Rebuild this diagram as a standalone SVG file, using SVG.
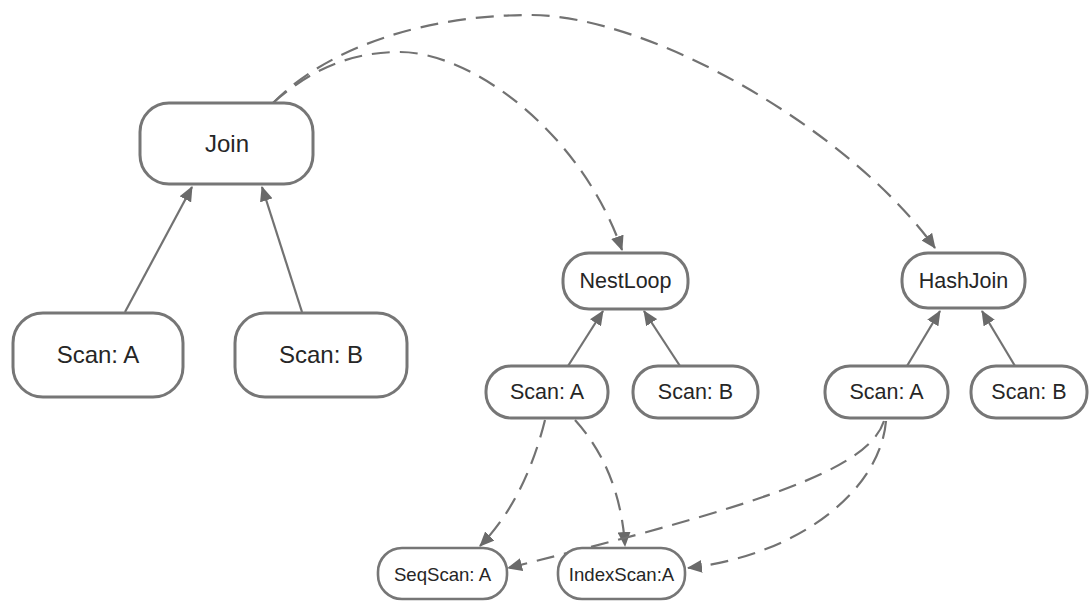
<svg xmlns="http://www.w3.org/2000/svg" width="1090" height="601" viewBox="0 0 1090 601">
  <style>
    .node rect { fill: #ffffff; stroke: #767676; stroke-width: 3; }
    .node text { font-family: "Liberation Sans", Arial, sans-serif; fill: #262626; text-anchor: middle; }
    .big text { font-size: 24px; }
    .mid text { font-size: 21.5px; }
    .small rect { stroke-width: 2.6; }
    .small text { font-size: 18.6px; }
    .edge { fill: none; stroke: #727272; stroke-width: 2.2; }
    .dash { stroke-dasharray: 18 10; }
  </style>
  <defs>
    <marker id="arrow" viewBox="0 0 15 13" refX="14" refY="6.5" markerWidth="15" markerHeight="13" markerUnits="userSpaceOnUse" orient="auto">
      <path d="M0,0 L15,6.5 L0,13 Z" fill="#6a6a6a"/>
    </marker>
  </defs>

  <!-- connectors -->
  <g id="connectors">
    <!-- solid child-to-parent edges -->
    <line class="edge" x1="125" y1="312" x2="192" y2="187" marker-end="url(#arrow)"/>
    <line class="edge" x1="302" y1="312" x2="262" y2="187" marker-end="url(#arrow)"/>
    <line class="edge" x1="568" y1="366" x2="603" y2="311" marker-end="url(#arrow)"/>
    <line class="edge" x1="680" y1="366" x2="644" y2="311" marker-end="url(#arrow)"/>
    <line class="edge" x1="907" y1="366" x2="940" y2="311" marker-end="url(#arrow)"/>
    <line class="edge" x1="1015" y1="366" x2="982" y2="311" marker-end="url(#arrow)"/>

    <!-- dashed alternatives from Join -->
    <path class="edge dash" d="M273,103 C310,70 350,52 400,52 C470,52 580,130 622,250" marker-end="url(#arrow)"/>
    <path class="edge dash" d="M273,103 C330,45 430,15 530,15 C650,15 850,130 935,248" marker-end="url(#arrow)"/>

    <!-- dashed alternatives from the NestLoop scan -->
    <path class="edge dash" d="M545,420 Q525,500 480,546" marker-end="url(#arrow)"/>
    <path class="edge dash" d="M575,420 Q620,470 625,546" marker-end="url(#arrow)"/>

    <!-- dashed alternatives from the HashJoin scan -->
    <path class="edge dash" d="M884,421 C868,470 760,505 508,568" marker-end="url(#arrow)"/>
    <path class="edge dash" d="M886,421 C880,490 800,555 688,568" marker-end="url(#arrow)"/>
  </g>

  <!-- nodes -->
  <g id="join" class="node big">
    <rect x="140" y="103" width="173" height="81" rx="29"/>
    <text x="227" y="152">Join</text>
  </g>
  <g id="scan-a-left" class="node big">
    <rect x="13" y="313" width="170" height="84" rx="30"/>
    <text x="98" y="363">Scan: A</text>
  </g>
  <g id="scan-b-left" class="node big">
    <rect x="235" y="313" width="172" height="84" rx="30"/>
    <text x="321" y="363">Scan: B</text>
  </g>

  <g id="nestloop" class="node mid">
    <rect x="563" y="253" width="125" height="56" rx="26"/>
    <text x="625.5" y="288">NestLoop</text>
  </g>
  <g id="scan-a-nest" class="node mid">
    <rect x="486" y="366" width="122" height="52" rx="25"/>
    <text x="547" y="399">Scan: A</text>
  </g>
  <g id="scan-b-nest" class="node mid">
    <rect x="633" y="366" width="125" height="52" rx="25"/>
    <text x="695.5" y="399">Scan: B</text>
  </g>

  <g id="hashjoin" class="node mid">
    <rect x="902" y="253" width="123" height="55" rx="26"/>
    <text x="963.5" y="288">HashJoin</text>
  </g>
  <g id="scan-a-hash" class="node mid">
    <rect x="825" y="366" width="123" height="52" rx="25"/>
    <text x="886.5" y="399">Scan: A</text>
  </g>
  <g id="scan-b-hash" class="node mid">
    <rect x="971" y="366" width="116" height="52" rx="25"/>
    <text x="1029" y="399">Scan: B</text>
  </g>

  <g id="seqscan-a" class="node small">
    <rect x="378" y="548" width="129" height="51" rx="24"/>
    <text x="442.5" y="581">SeqScan: A</text>
  </g>
  <g id="indexscan-a" class="node small">
    <rect x="558" y="548" width="127" height="51" rx="24"/>
    <text x="621.5" y="581">IndexScan:A</text>
  </g>
</svg>
